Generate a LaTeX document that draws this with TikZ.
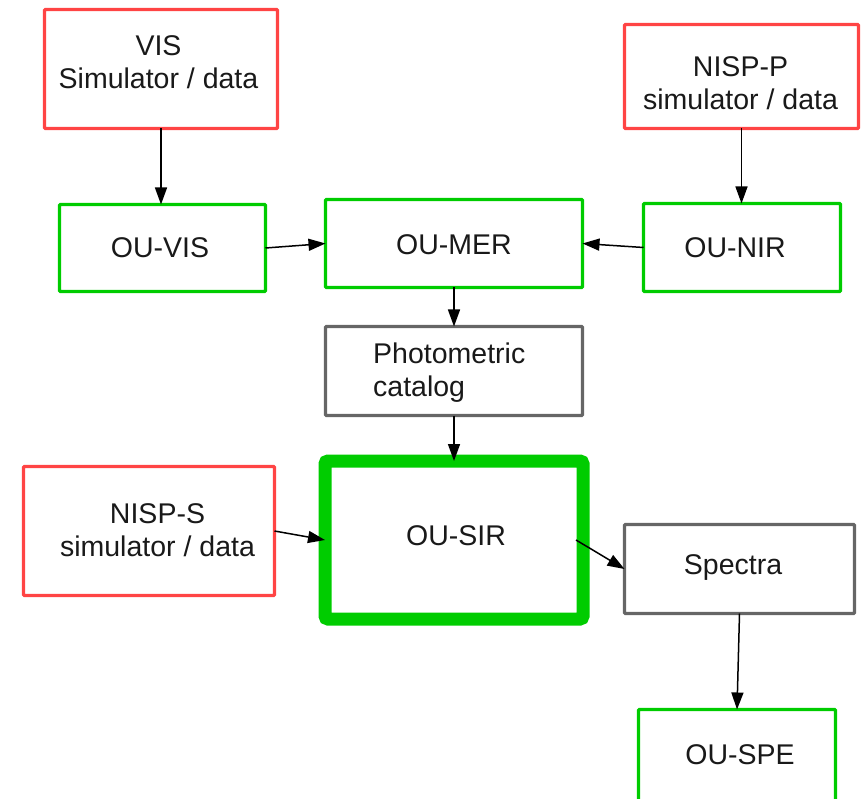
\documentclass[tikz,border=0pt]{standalone}
\usepackage{fontspec}
\setmainfont{Liberation Sans}
\usetikzlibrary{arrows.meta}
\definecolor{boxred}{RGB}{255,68,68}
\definecolor{boxgreen}{RGB}{0,204,0}
\definecolor{boxgray}{RGB}{102,102,102}
\begin{document}
\begin{tikzpicture}[x=1pt,y=-1pt,
  box/.style={draw, line width=3.4pt, inner sep=0pt, outer sep=0pt, rounded corners=1pt},
  redbox/.style={box, boxred},
  greenbox/.style={box, boxgreen},
  graybox/.style={box, boxgray},
  txt/.style={font=\fontsize{28.5}{33}\selectfont, align=center, inner sep=0pt, text=black!90},
  conn/.style={line width=1.5pt, -{Triangle[length=17pt,width=12pt]}}
]
\useasboundingbox (0,0) rectangle (862,799);
\clip (0,0) rectangle (862,799);
% boxes
\node[redbox, minimum width=233pt, minimum height=119pt] (vis) at (161,69) {};
\node[redbox, minimum width=234pt, minimum height=104pt] (nispp) at (741.5,76.5) {};
\node[greenbox, minimum width=206pt, minimum height=87pt] (ouvis) at (162.5,248) {};
\node[greenbox, minimum width=257pt, minimum height=88pt] (oumer) at (454,243.5) {};
\node[greenbox, minimum width=197pt, minimum height=88pt] (ounir) at (742,247.5) {};
\node[graybox, minimum width=257pt, minimum height=89pt] (photo) at (454,371) {};
\node[redbox, minimum width=251pt, minimum height=129pt] (nisps) at (149,531) {};
\node[draw=boxgreen, line width=13pt, inner sep=0pt, outer sep=0pt, rounded corners=3pt, minimum width=258pt, minimum height=158pt] (ousir) at (454,540) {};
\node[graybox, minimum width=230pt, minimum height=89pt] (spectra) at (739.5,569) {};
\node[greenbox, minimum width=197pt, minimum height=110pt] (ouspe) at (737,764.5) {};
% texts
\node[txt] (vis-t) at (158.5,62) {VIS\\Simulator / data};
\node[txt] (nispp-t) at (740.5,83) {NISP-P\\simulator / data};
\node[txt] (ouvis-t) at (160,248) {OU-VIS};
\node[txt] (oumer-t) at (454,245) {OU-MER};
\node[txt] (ounir-t) at (735,248) {OU-NIR};
\node[txt, anchor=west, align=left] (photo-t) at (373,372.5) {Photometric\\catalog};
\node[txt] (nisps-t) at (157.5,530) {NISP-S\\simulator / data};
\node[txt] (ousir-t) at (456,536) {OU-SIR};
\node[txt] (spectra-t) at (733,568) {Spectra};
\node[txt] (ouspe-t) at (740,755) {OU-SPE};
% connectors
\draw[conn] (vis.south) -- (vis.south |- ouvis.north);
\draw[conn] (nispp.south) -- (nispp.south |- ounir.north);
\draw[conn] (ouvis.east) -- (oumer.west);
\draw[conn] (ounir.west) -- (oumer.east);
\draw[conn] (oumer.south) -- (photo.north);
\draw[conn] (photo.south) -- (ousir.north);
\draw[conn] (nisps.east) -- (ousir.west);
\draw[conn] ([xshift=-7pt]ousir.east) -- (spectra.west);
\draw[conn] (spectra.south) -- (ouspe.north);
\end{tikzpicture}
\end{document}
